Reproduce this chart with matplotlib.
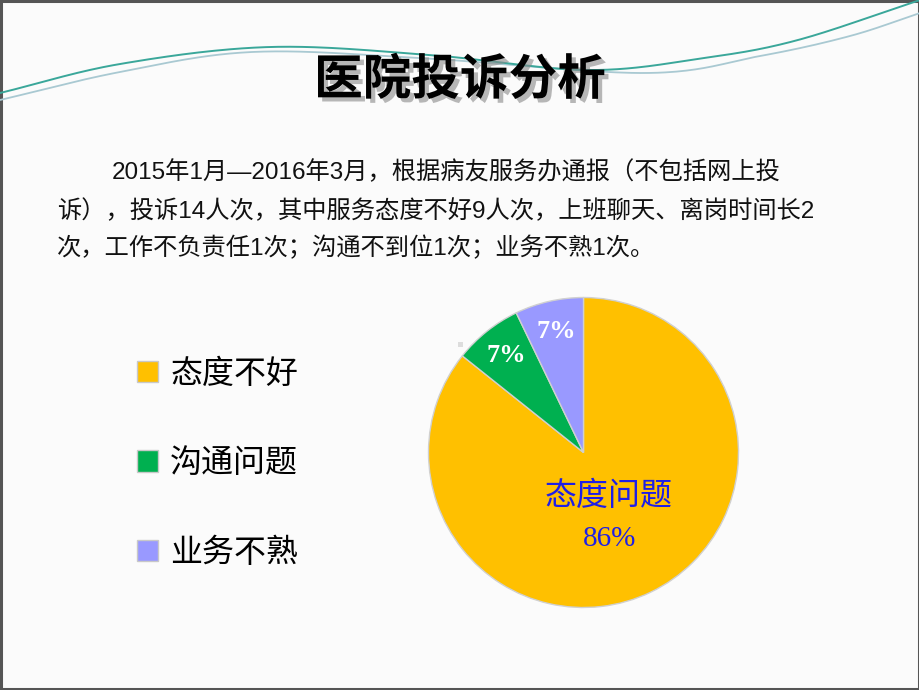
import numpy as np
import matplotlib
matplotlib.use("Agg")
import matplotlib.pyplot as plt
import matplotlib.patheffects as pe
from matplotlib.patches import Rectangle

plt.rcParams['font.family'] = ['Liberation Sans', 'Noto Sans CJK SC', 'DejaVu Sans']

# ---- data ----
title = "医院投诉分析"
paragraph_lines = [
    "2015年1月—2016年3月，根据病友服务办通报（不包括网上投",
    "诉），投诉14人次，其中服务态度不好9人次，上班聊天、离岗时间长2",
    "次，工作不负责任1次；沟通不到位1次；业务不熟1次。",
]
categories = ["态度不好", "沟通问题", "业务不熟"]
values = [12, 1, 1]
big_label = "态度问题"
colors = ["#FFC000", "#00B050", "#9999FF"]

W, H = 920, 690
fig = plt.figure(figsize=(W / 100, H / 100), dpi=100)
fig.patch.set_facecolor("#FBFBFB")

def px(x, y):
    return x / W, 1 - y / H

# ---- decorative curves ----
def catmull(points, n=40):
    p = np.array(points, dtype=float)
    p = np.vstack([p[0] * 2 - p[1], p, p[-1] * 2 - p[-2]])
    out = []
    for i in range(1, len(p) - 2):
        p0, p1, p2, p3 = p[i - 1], p[i], p[i + 1], p[i + 2]
        t = np.linspace(0, 1, n)[:, None]
        seg = 0.5 * ((2 * p1) + (-p0 + p2) * t + (2 * p0 - 5 * p1 + 4 * p2 - p3) * t ** 2
                     + (-p0 + 3 * p1 - 3 * p2 + p3) * t ** 3)
        out.append(seg)
    return np.vstack(out)

c1 = catmull([(0, 93), (120, 64), (270, 47), (430, 55), (587, 70), (704, 58), (798, 40), (920, 0)])
c2 = catmull([(0, 100), (120, 72), (252, 52), (420, 58), (645, 73), (760, 56), (850, 36), (920, 13)])
fig.add_artist(plt.Line2D(c2[:, 0] / W, 1 - c2[:, 1] / H, color="#A9C9D2", lw=1.3, transform=fig.transFigure))
fig.add_artist(plt.Line2D(c1[:, 0] / W, 1 - c1[:, 1] / H, color="#3AA79A", lw=1.4, transform=fig.transFigure))

# ---- title ----
fig.text(*px(460, 80), title, ha="center", va="center", fontsize=35, fontweight="bold",
         family=["Noto Sans CJK SC"], color="black",
         path_effects=[pe.withSimplePatchShadow(offset=(3, -3), shadow_rgbFace="#888888", alpha=0.6)])

# ---- paragraph ----
para_kw = dict(ha="left", va="center", fontsize=17.5, color="#111111")
fig.text(*px(112, 172), paragraph_lines[0], **para_kw)
fig.text(*px(57, 211), paragraph_lines[1], **para_kw)
fig.text(*px(57, 248), paragraph_lines[2], **para_kw)

# ---- pie ----
cx, cy, r = 583.5, 452.5, 155
ax = fig.add_axes([(cx - r) / W, (H - cy - r) / H, 2 * r / W, 2 * r / H])
total = sum(values)
wedges, texts, autotexts = ax.pie(values, colors=colors, startangle=90, counterclock=False,
                                  radius=1, autopct=lambda p: f"{p:.0f}%", pctdistance=0.8,
                                  wedgeprops=dict(edgecolor="#D0D0D0", linewidth=1.0),
                                  textprops=dict(family=["Liberation Serif"], fontsize=19,
                                                 fontweight="bold", color="white"))
ax.set_xlim(-1, 1)
ax.set_ylim(-1, 1)
ax.set_aspect("equal")
ax.axis("off")
# big slice label
autotexts[0].set_visible(False)
ax.text(0.16, -0.28, big_label, ha="center", va="center", fontsize=23, color="#1F1FE6",
        family=["Noto Sans CJK SC"])
ax.text(0.17, -0.56, f"{values[0] / total * 100:.0f}%", ha="center", va="center", fontsize=21,
        color="#1F1FE6", family=["Liberation Serif"])

# ---- legend ----
leg = fig.legend(wedges, categories, loc="upper left", bbox_to_anchor=px(108, 329),
                 frameon=False, prop=dict(family=["Noto Sans CJK SC"], size=23),
                 handlelength=0.65, handleheight=0.65, handletextpad=0.4, labelspacing=1.8)
for h in leg.legend_handles:
    h.set_edgecolor("#C8C8C8")
    h.set_linewidth(1.0)

# small artifact square
fig.add_artist(Rectangle(px(458, 347), 5 / W, 5 / H, transform=fig.transFigure,
                         facecolor="#DDDDDD", edgecolor="none"))

# ---- border ----
fig.add_artist(Rectangle((0.001, 0.001), 0.998, 0.997, transform=fig.transFigure,
                         fill=False, edgecolor="#555555", linewidth=2.2))

fig.savefig("out.png", dpi=100, facecolor=fig.get_facecolor())
